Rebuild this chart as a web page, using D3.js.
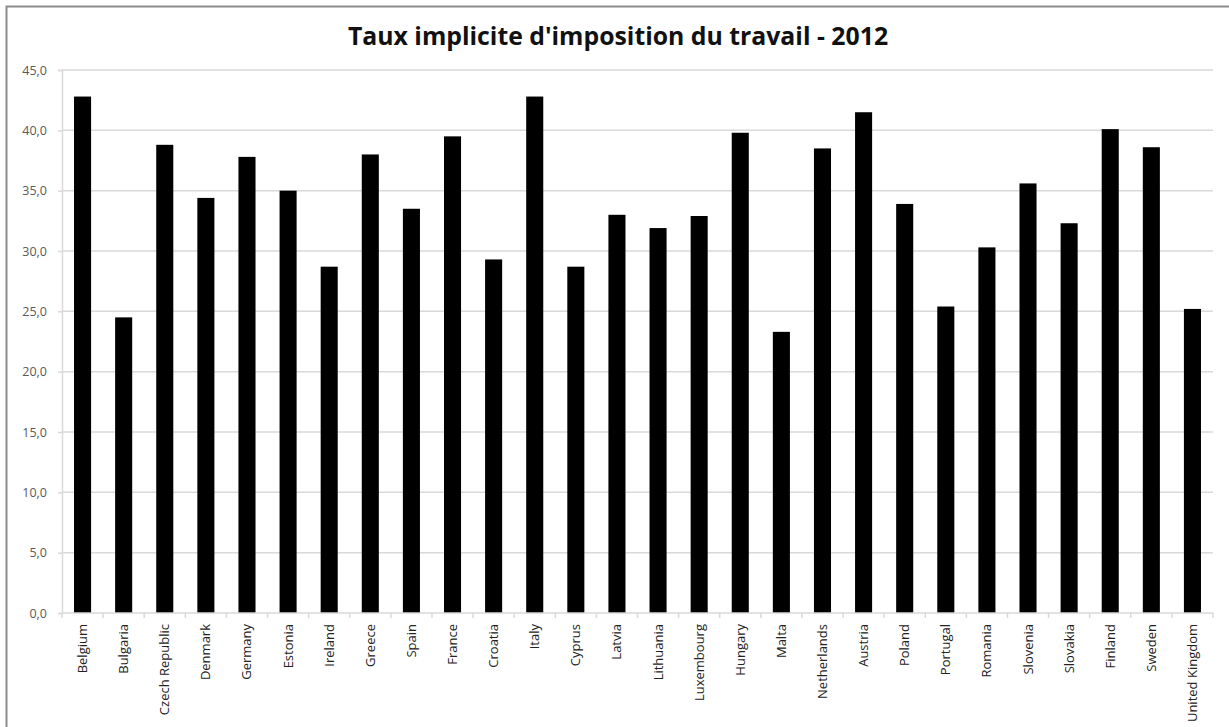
<!DOCTYPE html>
<html>
<head>
<meta charset="utf-8">
<script src="https://cdn.jsdelivr.net/npm/d3@7"></script>
<style>
  html, body { margin: 0; padding: 0; background: #fff; }
  svg { display: block; }
</style>
</head>
<body>
<svg id="chart" width="1229" height="727"></svg>
<script>
// Implicit tax rate on labour, 2012 (%)
const countries = ["Belgium", "Bulgaria", "Czech Republic", "Denmark", "Germany", "Estonia", "Ireland", "Greece", "Spain", "France", "Croatia", "Italy", "Cyprus", "Latvia", "Lithuania", "Luxembourg", "Hungary", "Malta", "Netherlands", "Austria", "Poland", "Portugal", "Romania", "Slovenia", "Slovakia", "Finland", "Sweden", "United Kingdom"];
const rates = [42.8, 24.5, 38.8, 34.4, 37.8, 35.0, 28.7, 38.0, 33.5, 39.5, 29.3, 42.8, 28.7, 33.0, 31.9, 32.9, 39.8, 23.3, 38.5, 41.5, 33.9, 25.4, 30.3, 35.6, 32.3, 40.1, 38.6, 25.2];
const yTicks = [0, 5, 10, 15, 20, 25, 30, 35, 40, 45];
const title = "Taux implicite d'imposition du travail - 2012";

const svg = d3.select("#chart");
const W = 1229, H = 727;
const plot = { left: 62, right: 1213, top: 70, bottom: 613 };

// outer frame (top and left edges)
svg.append("path")
  .attr("d", `M6.5,${H} V6.5 H${W}`)
  .attr("fill", "none")
  .attr("stroke", "#8c8c8c")
  .attr("stroke-width", 2);

const x = d3.scaleBand().domain(countries).range([plot.left, plot.right]).paddingInner(0.585).paddingOuter(0.2925);
const y = d3.scaleLinear().domain([0, 45]).range([plot.bottom, plot.top]);

// horizontal gridlines
svg.append("g")
  .selectAll("line")
  .data(yTicks.filter(d => d > 0))
  .join("line")
  .attr("x1", plot.left).attr("x2", plot.right)
  .attr("y1", d => y(d)).attr("y2", d => y(d))
  .attr("stroke", "#d9d9d9").attr("stroke-width", 1.5);

// y axis
const yAxis = svg.append("g")
  .attr("transform", `translate(${plot.left},0)`)
  .call(d3.axisLeft(y).tickValues(yTicks).tickSize(4).tickPadding(11)
    .tickFormat(d => d3.format(".1f")(d).replace(".", ",")));
yAxis.select(".domain").attr("stroke", "#d9d9d9").attr("stroke-width", 1.5);
yAxis.selectAll(".tick line").attr("stroke", "#d9d9d9").attr("stroke-width", 1.5);
yAxis.selectAll("text")
  .attr("fill", "#595959")
  .style("font-family", "'Open Sans', sans-serif")
  .style("font-size", "12.5px");

// bars
svg.append("g")
  .selectAll("rect")
  .data(countries)
  .join("rect")
  .attr("x", d => x(d))
  .attr("width", x.bandwidth())
  .attr("y", (d, i) => y(rates[i]))
  .attr("height", (d, i) => y(0) - y(rates[i]))
  .attr("fill", "#000");

// x axis with ticks between categories
const boundaries = d3.range(countries.length + 1).map(i => plot.left + i * (plot.right - plot.left) / countries.length);
const xg = svg.append("g");
xg.append("line")
  .attr("x1", plot.left).attr("x2", plot.right)
  .attr("y1", plot.bottom).attr("y2", plot.bottom)
  .attr("stroke", "#d9d9d9").attr("stroke-width", 1.5);
xg.selectAll("line.tk")
  .data(boundaries)
  .join("line")
  .attr("class", "tk")
  .attr("x1", d => d).attr("x2", d => d)
  .attr("y1", plot.bottom).attr("y2", plot.bottom + 5)
  .attr("stroke", "#d9d9d9").attr("stroke-width", 1.5);

// category labels, rotated
xg.selectAll("text")
  .data(countries)
  .join("text")
  .attr("transform", d => `translate(${x(d) + x.bandwidth() / 2 + 4.5},${plot.bottom + 11}) rotate(-90)`)
  .attr("text-anchor", "end")
  .attr("fill", "#222")
  .style("font-family", "'Open Sans', sans-serif")
  .style("font-size", "13px")
  .text(d => d);

// title
svg.append("text")
  .attr("x", 618)
  .attr("y", 45)
  .attr("text-anchor", "middle")
  .attr("fill", "#111")
  .style("font-family", "'Open Sans', sans-serif")
  .style("font-weight", "bold")
  .style("font-size", "24.8px")
  .text(title);
</script>
</body>
</html>
